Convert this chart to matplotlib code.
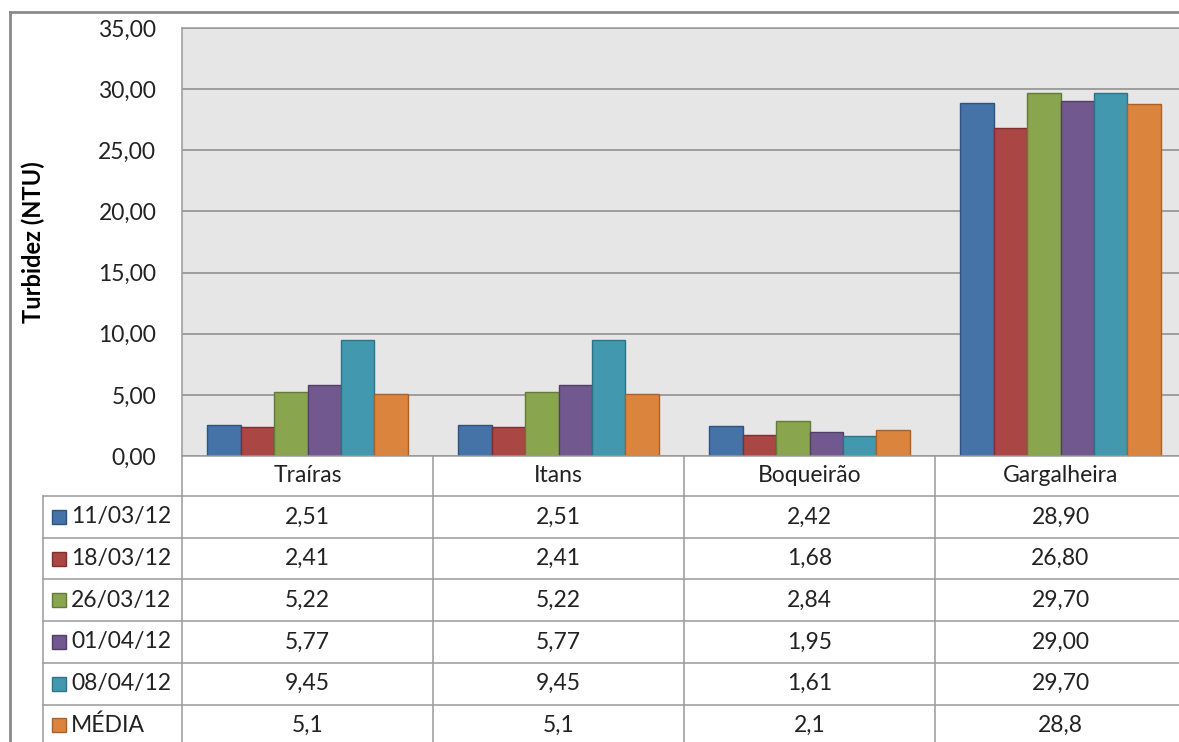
import matplotlib.pyplot as plt
import matplotlib.transforms as mtransforms
from matplotlib.lines import Line2D
from matplotlib.patches import Rectangle
import numpy as np

# dados
locais = ["Traíras", "Itans", "Boqueirão", "Gargalheira"]
datas = ["11/03/12", "18/03/12", "26/03/12", "01/04/12", "08/04/12", "MÉDIA"]
v_110312 = [2.51, 2.51, 2.42, 28.90]
v_180312 = [2.41, 2.41, 1.68, 26.80]
v_260312 = [5.22, 5.22, 2.84, 29.70]
v_010412 = [5.77, 5.77, 1.95, 29.00]
v_080412 = [9.45, 9.45, 1.61, 29.70]
v_media = [5.1, 5.1, 2.1, 28.8]
series = [v_110312, v_180312, v_260312, v_010412, v_080412, v_media]
decimais = [2, 2, 2, 2, 2, 1]
cores = ['#4572A7', '#AA4643', '#89A54E', '#71588F', '#4198AF', '#DB843D']
bordas = ['#2f5280', '#7f302e', '#647a38', '#513f68', '#2d7386', '#a9612a']
yticks = [0, 5, 10, 15, 20, 25, 30, 35]

W, H = 1179, 742
FS = 16.5
plt.rcParams['font.family'] = ['Lato', 'DejaVu Sans']
fig = plt.figure(figsize=(W / 100, H / 100), dpi=100)

def fx(x):
    return x / W

def fy(y):
    return 1 - y / H

# area do grafico (passa da borda direita como no original)
x0, x1, ytop, ybot = 182, 1186, 28, 456
ax = fig.add_axes([fx(x0), fy(ybot), fx(x1 - x0), fy(ytop) - fy(ybot)])
ax.set_facecolor('#E6E6E6')
ax.set_xlim(-0.5, len(locais) - 0.5)
ax.set_ylim(0, 35)
ax.set_yticks(yticks)
ax.set_yticklabels([("%.2f" % t).replace('.', ',') for t in yticks], fontsize=FS, color='#222222')
ax.tick_params(axis='y', length=0, pad=18.5)
ax.set_xticks([])
ax.grid(axis='y', color='#8a8a8a', linewidth=1.1)
ax.set_axisbelow(True)
for s in ['top', 'left', 'right', 'bottom']:
    ax.spines[s].set_color('#9a9a9a')
    ax.spines[s].set_linewidth(1.1)

x = np.arange(len(locais))
n = len(series)
larg = 0.8 / n
for i, vals in enumerate(series):
    ax.bar(x - 0.4 + larg * (i + 0.5), vals, width=larg, color=cores[i],
           edgecolor=bordas[i], linewidth=1)

ax.set_ylabel("Turbidez (NTU)", fontsize=17, fontweight='bold')
ax.yaxis.set_label_coords((45 - x0) / (x1 - x0), 0.5)

# tabela de dados abaixo do grafico
tr = mtransforms.blended_transform_factory(ax.transData, fig.transFigure)
linha = dict(color='#9a9a9a', linewidth=1.1)
row_h = 41.7
y_head = 496
# linhas verticais
for c in range(len(locais)):
    fig.add_artist(Line2D([c - 0.5, c - 0.5], [fy(ybot), 0], transform=tr, **linha))
fig.add_artist(Line2D([fx(43), fx(43)], [fy(y_head), 0], **linha))
# linhas horizontais
for r in range(n + 1):
    yy = fy(y_head + r * row_h)
    fig.add_artist(Line2D([fx(43), 1], [yy, yy], **linha))
# nomes dos locais
for c, nome in enumerate(locais):
    fig.text(c, fy((ybot + y_head) / 2), nome, transform=tr, ha='center', va='center',
             fontsize=FS, color='#222222')
# linhas de valores
for r in range(n):
    yc = fy(y_head + (r + 0.5) * row_h)
    fig.add_artist(Rectangle((fx(52), yc - 7 / H), 14 / W, 14 / H, facecolor=cores[r],
                             edgecolor=bordas[r], linewidth=1))
    fig.text(fx(71), yc, datas[r], ha='left', va='center', fontsize=FS, color='#222222')
    for c in range(len(locais)):
        txt = ("%.*f" % (decimais[r], series[r][c])).replace('.', ',')
        fig.text(c, yc, txt, transform=tr, ha='center', va='center', fontsize=FS, color='#222222')

# borda externa do grafico
fig.add_artist(Line2D([fx(10), fx(10)], [fy(12), 0], color='#8a8a8a', linewidth=2))
fig.add_artist(Line2D([fx(10), 1], [fy(12), fy(12)], color='#8a8a8a', linewidth=2))

plt.savefig("out.png", dpi=100)
